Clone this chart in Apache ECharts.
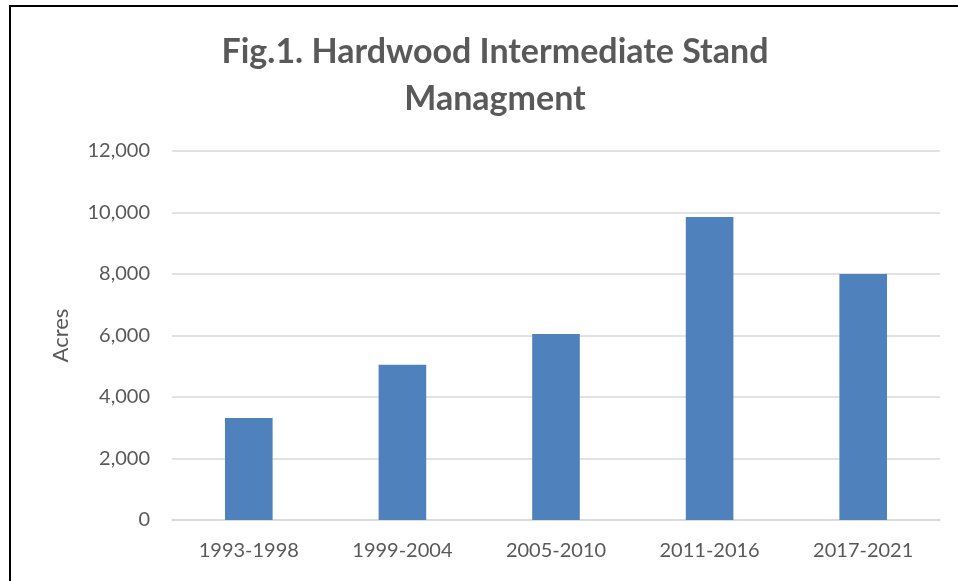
<!DOCTYPE html>
<html>
<head>
<meta charset="utf-8">
<script src="https://cdn.jsdelivr.net/npm/echarts@6/dist/echarts.min.js"></script>
<style>html,body{margin:0;padding:0;background:#fff;}#c{width:958px;height:581px;}</style>
</head>
<body>
<div id="c"></div>
<script>
const titleText = 'Fig.1. Hardwood Intermediate Stand\nManagment';
const categories = ['1993-1998', '1999-2004', '2005-2010', '2011-2016', '2017-2021'];
const acres = [3320, 5050, 6050, 9850, 8000];
const yAxisName = 'Acres';

const chart = echarts.init(document.getElementById('c'), null, {renderer: 'canvas'});
const font = 'Lato, "Open Sans", sans-serif';
chart.setOption({
  animation: false,
  backgroundColor: '#fff',
  title: {
    text: titleText,
    left: 490, textAlign: 'center', top: 24,
    textStyle: {fontFamily: font, fontWeight: 'bold', fontSize: 34, color: '#595959', lineHeight: 47}
  },
  graphic: [{
    type: 'rect', shape: {x: 10, y: 6, width: 1000, height: 700},
    style: {fill: 'none', stroke: '#000', lineWidth: 2}, silent: true
  }],
  grid: {left: 172, right: 18, top: 151, bottom: 61, containLabel: false},
  xAxis: {
    type: 'category', data: categories,
    axisLine: {lineStyle: {color: '#d9d9d9', width: 1.5}},
    axisTick: {show: false},
    axisLabel: {fontFamily: font, fontSize: 20, color: '#595959', margin: 21}
  },
  yAxis: {
    type: 'value', min: 0, max: 12000, interval: 2000,
    name: yAxisName, nameLocation: 'middle', nameGap: 100,
    nameTextStyle: {fontFamily: font, fontSize: 22, color: '#595959'},
    axisLine: {show: false}, axisTick: {show: false},
    splitLine: {lineStyle: {color: '#d9d9d9', width: 1.5}},
    axisLabel: {
      fontFamily: font, fontSize: 20, color: '#595959', margin: 22,
      formatter: v => v.toLocaleString('en-US')
    }
  },
  series: [{
    type: 'bar', data: acres, barWidth: '31%',
    itemStyle: {color: '#4f81bd'}
  }]
});
</script>
</body>
</html>
